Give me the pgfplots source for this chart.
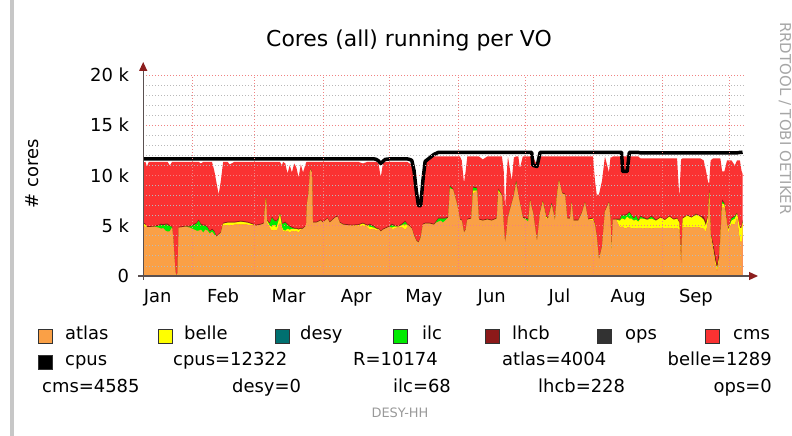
\documentclass[border=0pt]{standalone}
\usepackage{fontspec}
\setmainfont{DejaVu Sans}
\usepackage{pgfplots}
\pgfplotsset{compat=1.18}
\usepackage{pgfplotstable}
\usetikzlibrary{arrows.meta}

\definecolor{atlas}{RGB}{250,160,70}
\definecolor{belle}{RGB}{255,255,0}
\definecolor{desy}{RGB}{0,112,112}
\definecolor{ilc}{RGB}{0,235,0}
\definecolor{lhcb}{RGB}{140,25,25}
\definecolor{ops}{RGB}{50,50,50}
\definecolor{cms}{RGB}{250,50,50}
\definecolor{majgrid}{RGB}{240,130,130}
\definecolor{mingrid}{RGB}{185,185,185}
\definecolor{axisline}{RGB}{90,80,80}
\definecolor{arrowred}{RGB}{140,30,30}

% d = day of year (Jan 1 = 0); A atlas, B belle, I ilc, L lhcb, R total running, P cpus
\pgfplotstableread{
d A B I L R P
9 4900 300 0 100 11300 11650
10 4900 200 0 100 11350 11650
10.7 4850 0 0 100 10900 11650
11.5 4850 0 0 100 11350 11650
14 4900 0 0 100 11350 11650
16 4800 0 200 100 11350 11650
17 4700 0 400 100 11350 11650
18 4750 0 300 100 11350 11650
19 4500 0 600 100 11350 11650
20 4400 0 700 100 11350 11650
21 4450 0 500 100 11000 11650
22 4800 0 100 100 11350 11650
22.5 3800 0 0 100 11350 11650
23 2000 0 0 100 11350 11650
23.5 400 0 0 50 11350 11650
24 0 0 0 0 11350 11650
24.5 300 0 0 50 11350 11650
25 4800 0 0 100 11350 11650
28 4900 0 0 100 11350 11650
30 4800 0 100 100 11350 11650
31 4700 0 300 100 11350 11650
32 4600 0 500 100 11350 11650
33 4500 0 700 100 11350 11650
34 4500 0 1000 100 11350 11650
35 4600 0 500 100 11200 11650
36 4300 0 700 100 11350 11650
37 4600 0 400 100 11350 11650
38 4500 0 300 100 11350 11650
39 4200 0 200 100 11350 11650
40 4400 0 200 100 11350 11650
41 4100 0 300 100 10500 11650
42 3900 0 0 100 9300 11650
43 4100 0 0 100 8100 11650
44 4300 0 0 100 9500 11650
45 5000 200 0 100 11350 11650
47 5000 300 0 100 11350 11650
48 5000 300 0 100 11100 11650
50 5100 200 0 100 11350 11650
53 5100 300 0 100 11350 11650
56 5100 200 0 100 11350 11650
58 5050 100 0 100 11350 11650
60 5000 0 0 100 11350 11650
62 5100 0 0 100 11350 11650
63.4 5200 0 0 100 11350 11650
63.8 6500 100 0 100 11350 11650
64.3 7400 400 0 100 11350 11650
64.8 5300 200 0 100 11350 11650
66 4800 200 200 100 11350 11650
67 4500 400 900 100 11350 11650
68 4600 500 400 100 11350 11650
69 4500 300 600 100 11350 11650
70 4900 600 200 100 11350 11650
70.6 5300 900 0 100 11350 11650
71.5 4700 200 300 100 11000 11650
72 4500 100 600 100 11350 11650
73 4400 100 800 100 11200 11650
74 4500 200 400 100 10200 11650
75 4300 300 300 100 11000 11650
76 4500 200 100 100 10300 11650
77 4400 300 0 100 11200 11650
78 4500 200 0 100 10800 11650
79 4300 300 0 100 9800 11650
80 4600 100 0 100 11100 11650
81 4700 0 0 100 10300 11650
82.4 5000 0 0 100 11300 11650
82.8 7200 0 0 100 11350 11650
83.5 8200 0 0 100 11350 11650
84.2 10600 0 0 100 11350 11650
85 10300 0 0 100 11350 11650
85.4 5300 0 0 100 11350 11650
87 5300 0 0 100 11350 11650
89 5500 0 0 100 11350 11650
90 5300 0 0 100 11350 11650
92 5700 0 0 100 11350 11650
93 5300 0 0 100 11350 11650
95.5 5800 0 0 100 11350 11650
96.5 5900 0 0 100 11350 11650
97.5 5300 0 0 100 11350 11650
99 5100 0 0 100 11350 11650
103 5000 0 0 100 11350 11650
106 4950 100 0 100 11350 11650
108 5000 200 0 100 11200 11650
110 4900 100 0 100 11350 11650
111 4600 300 200 100 11350 11650
113 4700 100 100 100 11350 11650
114 4500 200 0 100 11350 11600
115 4700 0 0 100 11200 11450
116 4400 0 0 100 9800 11200
117 4600 0 0 100 11200 11400
118 4700 0 0 100 11350 11600
120 4900 0 0 100 11350 11650
121 4700 100 300 100 11350 11650
122 4700 200 100 100 11350 11650
124 4900 0 0 100 11350 11650
126 4800 300 100 100 11350 11650
127 4600 500 300 100 11350 11650
128 4900 200 0 100 11350 11650
129 4950 0 0 100 11200 11600
130 4700 0 0 100 11100 11500
131 4000 0 0 100 10000 10500
132 3500 0 0 100 8200 8500
133 3300 0 0 100 7000 7000
134 3800 0 0 100 7000 7000
135 5100 0 0 100 9600 9500
136 5200 0 0 100 11500 11400
138 5200 0 0 100 11700 11750
140 5100 0 0 100 11900 12100
141 5300 0 100 100 11900 12200
142 5400 0 300 100 11900 12300
143 5500 0 200 100 11900 12300
144 5300 0 400 100 11900 12300
145 5500 0 200 100 11900 12300
146.4 5800 0 0 100 11900 12300
147.2 8700 0 200 100 11900 12300
148.6 8600 0 0 100 11900 12300
150.4 7100 0 0 100 11900 12300
151.7 5600 0 0 100 11900 12300
152.5 5500 0 0 100 11500 12300
153.5 4300 0 0 100 9250 12300
154.3 4600 0 0 100 10500 12300
155 5600 0 0 100 11900 12300
156.8 5700 0 0 100 11900 12300
157.6 8200 300 300 100 11900 12300
159.4 8500 0 200 100 11900 12300
160.2 5600 0 0 100 11900 12300
162 5500 0 0 100 11600 12300
164 5600 0 0 100 11900 12300
166 5500 0 0 100 11900 12300
168.3 5700 0 0 100 11900 12300
169 8300 200 100 100 11900 12300
170.6 8000 0 0 100 11900 12300
171.4 5000 0 0 100 10500 12300
172 3300 0 0 100 6600 12300
172.7 4300 0 0 100 10000 12300
173.3 5800 0 0 100 11900 12300
175 7200 0 0 100 9500 12300
176 8000 0 0 100 11800 12300
177 9200 0 200 100 11900 12300
178 8000 0 0 100 11900 12300
178.7 7200 0 0 100 10700 12300
180 5800 0 0 100 11900 12300
182.5 5400 0 200 100 11900 12300
183.3 7500 0 0 100 11900 12300
184 6800 0 0 100 11900 12300
184.6 6300 0 0 100 11900 11000
186.4 3400 0 0 100 11000 10900
187.8 6300 0 0 100 11900 12300
189 7300 100 0 100 11900 12300
190.5 5700 200 0 100 11900 12300
191.4 5700 0 0 100 11900 12300
193 7000 100 100 100 11900 12300
194.5 5500 0 0 100 11900 12300
195.4 7800 300 0 100 11900 12300
196.3 9500 0 0 100 11900 12300
197.7 8200 0 0 100 11900 12300
199 8100 0 0 100 11900 12300
200 5700 0 0 100 11900 12300
201.3 5700 0 0 100 11900 12300
202 7300 0 0 100 11900 12300
202.8 5500 0 0 100 11900 12300
205 5500 0 0 100 11900 12300
206.7 6300 0 0 100 11900 12300
208 7300 0 0 100 11900 12300
209.4 5600 0 0 100 11900 12300
211.6 5500 200 0 100 11900 12300
212.5 5000 100 0 100 9500 12300
213.3 3900 0 0 100 8100 12300
214.3 1600 0 0 100 8100 12300
215.7 2900 0 0 100 9500 12300
217 6400 0 0 100 11900 12300
218.8 7300 0 0 100 10300 12300
219.5 5500 0 0 100 11800 12300
220 2400 0 0 100 11800 12300
220.6 5600 0 0 100 11900 12300
222 5600 0 0 100 11900 12300
223.8 4800 700 100 100 11900 12300
224.5 4900 800 300 100 11900 12300
225 4900 800 300 100 11900 10400
226 4700 900 400 100 11900 10400
227 4800 1100 200 100 11900 10400
228 4900 800 600 100 11900 12300
229 4700 1000 300 100 11900 12300
230 4800 700 200 100 11900 12300
231 4700 900 400 100 11900 12300
232 4800 600 100 100 11900 12300
233 4800 900 200 100 11700 12250
234 4700 1000 100 100 11700 12250
236 4800 800 0 100 11700 12250
238 4700 1000 200 100 11700 12250
240 4800 700 0 100 11700 12250
242 4800 1000 0 100 11700 12250
244 4750 800 0 100 11700 12250
246 4800 1100 0 100 11700 12250
248 4700 900 0 100 11700 12250
249.5 4800 900 0 100 11700 12250
250.5 4600 700 0 100 7800 12250
251.3 900 200 0 100 11600 12250
252 4800 900 0 100 11700 12250
254 4900 1100 0 100 11700 12250
256 4800 1000 0 100 11700 12250
258 4900 1200 0 100 11700 12250
260 4800 1100 0 100 11700 12250
261.5 4700 900 0 300 11500 12250
262.5 4400 600 0 400 10500 12250
263.5 5500 500 0 100 9300 12250
264 7800 500 0 300 9300 12250
264.6 3900 300 0 100 11500 12250
265.7 2600 200 0 500 11700 12250
266.6 1300 300 0 600 11700 12250
267.5 400 300 0 400 11700 12250
268.4 1500 300 0 500 11700 12250
269 3500 400 0 200 11700 12250
269.8 6800 400 200 200 10400 12250
270.8 6800 300 100 100 10400 12250
272 5000 200 0 100 11500 12250
272.5 4300 300 0 100 11500 12250
274 5200 300 200 100 11500 12250
275.5 5100 600 200 100 11000 12250
276.5 5800 400 0 100 11500 12250
277.8 3500 1300 0 100 11500 12300
278.5 3300 1500 0 100 10500 12300
279 4004 1289 68 228 10174 12322
}\vodata

\pgfplotsset{vobase/.style={
  at={(143.2bp,160bp)}, anchor=south west, scale only axis,
  width=601.8bp, height=201bp,
  xmin=9, xmax=280.1, ymin=0, ymax=20000,
}}

\newcommand{\legsq}[3]{\filldraw[fill=#3, draw=black!80, line width=0.8bp] (#1,#2) rectangle ++(14,14);}

\begin{document}
\begin{tikzpicture}[x=1bp,y=1bp]
\path[use as bounding box] (0,0) rectangle (792,436);
\fill[black!22] (10,0) rectangle (14,436);

\begin{axis}[vobase, hide axis]
\addplot[fill=cms, draw=none] table[x=d,y=R]{\vodata} \closedcycle;
\end{axis}

\begin{axis}[vobase, hide axis, stack plots=y]
\addplot[fill=atlas, draw=none] table[x=d,y=A]{\vodata} \closedcycle;
\addplot[fill=belle, draw=none] table[x=d,y=B]{\vodata} \closedcycle;
\addplot[fill=ilc, draw=none] table[x=d,y=I]{\vodata} \closedcycle;
\addplot[fill=lhcb, draw=none] table[x=d,y=L]{\vodata} \closedcycle;
\end{axis}

\begin{axis}[vobase, axis on top, axis line style={draw=none},
  scaled y ticks=false,
  ytick={0,5000,10000,15000,20000},
  yticklabels={0,5 k,10 k,15 k,20 k},
  minor y tick num=4,
  ymajorgrids=true, yminorgrids=true,
  xtick={15.5,45,74.5,105,135.5,166,196.5,227.5,258},
  xticklabels={Jan,Feb,Mar,Apr,May,Jun,Jul,Aug,Sep},
  extra x ticks={31,59,90,120,151,181,212,243,273},
  extra x tick labels={},
  extra x tick style={xmajorgrids=true},
  major tick length=0pt, minor tick length=0pt,
  major grid style={draw=majgrid, dash pattern=on 1bp off 2bp, line width=0.8bp},
  minor grid style={draw=mingrid, dash pattern=on 1bp off 2bp, line width=0.8bp},
  ticklabel style={font=\fontsize{18}{20}\selectfont},
  yticklabel style={anchor=east, inner sep=0pt, xshift=-14bp},
  xticklabel style={anchor=north, inner sep=0pt, yshift=-13bp},
]
\addplot[black, line width=3.5bp, line join=round] table[x=d,y=P]{\vodata};
\end{axis}

\draw[axisline, line width=1.2bp, -{Triangle[length=9bp,width=8bp,color=arrowred,fill=arrowred]}] (143.2,156) -- (143.2,374);
\draw[axisline, line width=1.2bp, -{Triangle[length=9bp,width=8bp,color=arrowred,fill=arrowred]}] (138,160) -- (758,160);

\node[font=\fontsize{22}{24}\selectfont] at (409,396) {Cores (all) running per VO};
\node[rotate=90, font=\fontsize{18}{20}\selectfont] at (32,262) {\# cores};
\node[rotate=-90, anchor=west, inner sep=0pt, font=\fontsize{15}{17}\selectfont, text=black!35] at (785,414) {RRDTOOL / TOBI OETIKER};
\node[font=\fontsize{13}{15}\selectfont, text=black!40] at (400,23) {DESY-HH};

% legend row 1
\legsq{38}{93}{atlas}\legsq{158}{93}{belle}\legsq{275}{93}{desy}\legsq{393}{93}{ilc}
\legsq{485}{93}{lhcb}\legsq{597}{93}{ops}\legsq{705}{93}{cms}
\begin{scope}[every node/.style={anchor=base west, inner sep=0pt, font=\fontsize{18}{20}\selectfont}]
\node at (65,96.5) {atlas};
\node at (184,96.5) {belle};
\node at (300,96.5) {desy};
\node at (422,96.5) {ilc};
\node at (512,96.5) {lhcb};
\node at (625,96.5) {ops};
\node at (733,96.5) {cms};
% row 2
\node at (65,70) {cpus};
\node at (173,70) {cpus=12322};
\node at (353,70) {R=10174};
\node at (502,70) {atlas=4004};
\node[anchor=base east] at (772,70) {belle=1289};
% row 3
\node at (42,43) {cms=4585};
\node at (232,43) {desy=0};
\node at (393,43) {ilc=68};
\node at (538,43) {lhcb=228};
\node[anchor=base east] at (772,43) {ops=0};
\end{scope}
\legsq{38}{67}{black}
\end{tikzpicture}
\end{document}
